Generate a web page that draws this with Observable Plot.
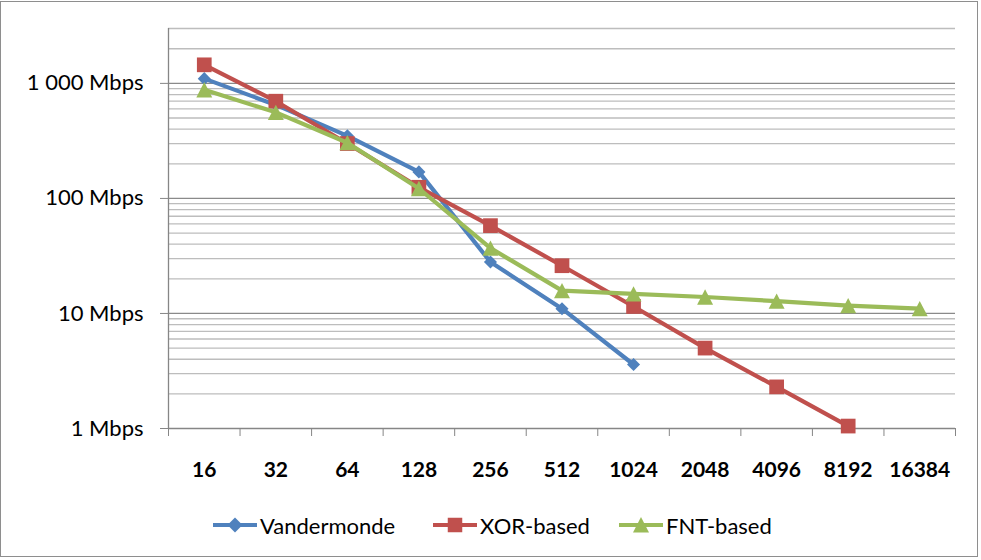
<!DOCTYPE html>
<html><head><meta charset="utf-8">
<script src="https://cdn.jsdelivr.net/npm/d3@7"></script>
<script src="https://cdn.jsdelivr.net/npm/@observablehq/plot@0.6"></script>
<style>
body{margin:0;background:#fff;}
#wrap{position:relative;width:981px;height:560px;overflow:hidden;font-family:Lato,sans-serif;}
#frame{position:absolute;left:0;top:1px;width:976px;height:554px;border:1.5px solid #8e8e8e;pointer-events:none;}
#chart{position:absolute;left:0;top:0;}
.item{position:absolute;top:512px;height:26px;display:flex;align-items:center;font-size:22px;color:#000;white-space:nowrap;}
.item svg{margin-right:3px;}
</style></head><body>
<div id="wrap"><div id="chart"></div><div id="legend"></div><div id="frame"></div></div>
<script>
// Category labels (x axis)
const sizes = ["16","32","64","128","256","512","1024","2048","4096","8192","16384"];
// Series values in Mbps
const vandermonde = [1100, 650, 350, 170, 28, 11, 3.6];
const xorBased   = [1450, 700, 300, 125, 58, 26, 11.5, 5.0, 2.3, 1.05];
const fntBased   = [880, 560, 305, 122, 37, 15.8, 14.8, 13.9, 12.8, 11.7, 11.0];
// Y axis labelled ticks
const yTicks = [1, 10, 100, 1000];
const yMax = 3000;
const seriesNames = ["Vandermonde", "XOR-based", "FNT-based"];
const seriesColors = ["#4F81BD", "#C0504D", "#9BBB59"];

// custom isoceles triangle (Excel style) centred on its bounding box
const tri = {draw(ctx, size){ const s = Math.sqrt(size); const w = s/2, h = s*0.48;
  ctx.moveTo(0,-h); ctx.lineTo(w,h); ctx.lineTo(-w,h); ctx.closePath(); }};
const symbols = ["diamond2", "square", tri];
const radii = [5.9, 8.3, 9.0];

const seriesValues = [vandermonde, xorBased, fntBased];
const rows = seriesValues.map((vals, s) => vals.map((v, i) => ({series: seriesNames[s], i, v})));

const idx = d3.range(sizes.length);
const bounds = d3.range(sizes.length + 1).map(k => k - 0.5);
const minor = yTicks.flatMap(d => [2,3,4,5,6,7,8,9].map(k => k*d)).filter(v => v <= yMax);
const fmtY = d => (d >= 1000 ? d3.format(",")(d).replace(/,/g, " ") : String(d)) + " Mbps";

const marks = [
  Plot.gridY(minor, {stroke: "#bdbdbd", strokeOpacity: 1, strokeWidth: 1.3}),
  Plot.gridY(yTicks.slice(1), {stroke: "#8a8a8a", strokeOpacity: 1, strokeWidth: 1.3}),
  Plot.ruleX([-0.5], {stroke: "#868686", strokeWidth: 1.3}),
  Plot.ruleY([1], {stroke: "#868686", strokeWidth: 1.3}),
  Plot.axisY(yTicks, {tickSize: 8, tickPadding: 17, tickFormat: fmtY, stroke: "#868686", label: null, fontSize: 22}),
  Plot.axisX(bounds, {tickSize: 8, tickFormat: () => "", stroke: "#868686", label: null}),
  Plot.axisX(idx, {tickSize: 0, tickPadding: 34, tickFormat: i => sizes[i], fontWeight: "bold", fontSize: 21, label: null})
];
rows.forEach((data, s) => {
  marks.push(Plot.line(data, {x: "i", y: "v", stroke: seriesColors[s], strokeWidth: 4.2}));
  marks.push(Plot.dot(data, {x: "i", y: "v", symbol: symbols[s], r: radii[s], fill: seriesColors[s], stroke: "none"}));
});

const chart = Plot.plot({
  width: 981, height: 500,
  marginTop: 28, marginBottom: 72, marginLeft: 168, marginRight: 26,
  x: {type: "linear", domain: [-0.5, sizes.length - 0.5]},
  y: {type: "log", domain: [1, yMax]},
  style: {fontFamily: "Lato, sans-serif", fontSize: "22px", color: "#000", background: "transparent", overflow: "visible"},
  marks
});
document.getElementById("chart").appendChild(chart);

// legend
const lefts = [213, 433, 619];
const legend = document.getElementById("legend");
seriesNames.forEach((name, s) => {
  const item = document.createElement("div");
  item.className = "item";
  item.style.left = lefts[s] + "px";
  const color = seriesColors[s];
  let marker;
  if (s === 0) marker = `<path d="M22,4.5 L29.5,12 L22,19.5 L14.5,12 Z" fill="${color}"/>`;
  else if (s === 1) marker = `<rect x="14.75" y="4.75" width="14.5" height="14.5" fill="${color}"/>`;
  else marker = `<path d="M22,4 L30,19.5 L14,19.5 Z" fill="${color}"/>`;
  item.innerHTML = `<svg width="44" height="24" viewBox="0 0 44 24"><line x1="0" x2="44" y1="12" y2="12" stroke="${color}" stroke-width="4"/>${marker}</svg><span>${name}</span>`;
  legend.appendChild(item);
});
</script>
</body></html>
